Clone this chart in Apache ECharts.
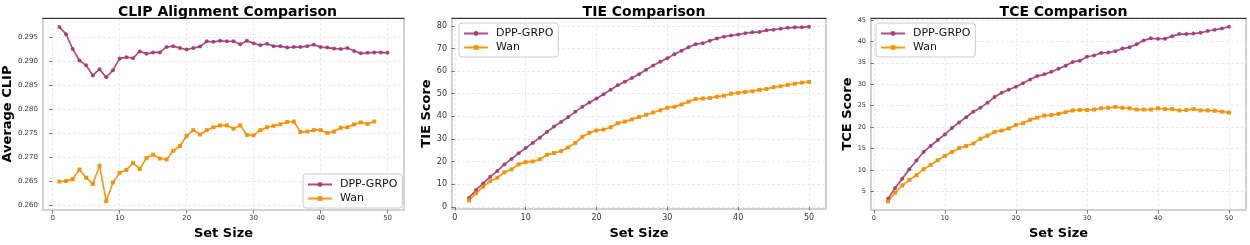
<!DOCTYPE html>
<html>
<head>
<meta charset="utf-8">
<script src="https://cdn.jsdelivr.net/npm/echarts@6/dist/echarts.min.js"></script>
<style>html,body{margin:0;padding:0;background:#fff;}#c{width:1250px;height:245px;}</style>
</head>
<body>
<div id="c"></div>
<script>
// ---------- data ----------
const setSizeClip = [1,2,3,4,5,6,7,8,9,10,11,12,13,14,15,16,17,18,19,20,21,22,23,24,25,26,27,28,29,30,31,32,33,34,35,36,37,38,39,40,41,42,43,44,45,46,47,48,49,50];
const setSizeScore = [2,3,4,5,6,7,8,9,10,11,12,13,14,15,16,17,18,19,20,21,22,23,24,25,26,27,28,29,30,31,32,33,34,35,36,37,38,39,40,41,42,43,44,45,46,47,48,49,50];

const clipDpp = [0.2972,0.2957,0.2926,0.2902,0.2892,0.2871,0.2884,0.2867,0.2882,0.2906,
  0.2909,0.2907,0.2921,0.2916,0.2919,0.2919,0.2930,0.2932,0.2928,0.2925,
  0.2928,0.2931,0.2942,0.2941,0.2943,0.2942,0.2942,0.2936,0.2943,0.2938,
  0.2934,0.2937,0.2932,0.2932,0.2929,0.2930,0.2930,0.2932,0.2935,0.2930,
  0.2929,0.2927,0.2926,0.2928,0.2922,0.2917,0.2918,0.2919,0.2919,0.2918];
const clipWan = [0.2650,0.2651,0.2655,0.2675,0.2658,0.2645,0.2683,0.2609,0.2648,0.2668,
  0.2674,0.2689,0.2676,0.2699,0.2706,0.2698,0.2696,0.2714,0.2724,0.2745,
  0.2757,0.2748,0.2757,0.2763,0.2767,0.2767,0.2760,0.2767,0.2747,0.2746,
  0.2757,0.2763,0.2766,0.2769,0.2774,0.2775,0.2753,0.2754,0.2757,0.2757,
  0.2751,0.2754,0.2762,0.2763,0.2769,0.2773,0.2770,0.2775];

const tieDpp = [4.0,7.5,10.4,13.3,15.9,18.8,21.2,23.7,26.0,
  28.3,30.6,33.1,35.5,37.5,39.7,42.0,44.2,46.1,47.9,
  49.8,51.8,53.7,55.3,56.9,58.6,60.6,62.5,64.1,65.7,
  67.4,69.0,70.5,71.9,72.3,73.4,74.4,75.2,75.7,76.1,
  76.7,77.1,77.3,78.0,78.3,78.7,79.1,79.3,79.3,79.6];
const tieWan = [2.9,6.1,9.0,11.4,12.9,15.3,16.6,18.8,19.8,
  20.1,21.1,23.0,23.8,24.7,26.3,28.3,31.0,32.8,33.8,
  34.2,35.2,37.0,37.7,38.7,39.7,40.7,41.7,42.7,43.8,
  44.2,45.3,46.5,47.7,47.9,48.1,48.7,49.1,50.0,50.4,
  50.8,51.1,51.7,52.1,52.9,53.3,53.9,54.4,54.9,55.2];

const tceDpp = [3.3,5.8,8.0,10.2,12.2,14.2,15.6,17.0,18.3,
  19.8,21.1,22.3,23.6,24.5,25.7,27.0,28.0,28.7,29.4,
  30.2,31.1,31.9,32.3,32.9,33.6,34.3,35.2,35.5,36.4,
  36.7,37.3,37.4,37.7,38.3,38.6,39.3,40.2,40.7,40.6,
  40.6,41.2,41.7,41.7,41.8,42.0,42.4,42.7,43.0,43.4];
const tceWan = [2.7,4.7,6.4,7.7,8.8,10.2,11.2,12.3,13.3,
  14.2,15.1,15.6,16.2,17.3,18.0,18.9,19.2,19.7,20.5,
  20.9,21.7,22.2,22.7,22.8,23.1,23.5,23.9,24.0,24.0,
  24.1,24.4,24.5,24.7,24.5,24.4,24.1,24.1,24.1,24.4,
  24.2,24.2,23.9,24.0,24.2,23.9,23.9,23.8,23.6,23.4];

const xTicks = [0,10,20,30,40,50];
const clipTicks = [0.260,0.265,0.270,0.275,0.280,0.285,0.290,0.295];
const tieTicks = [0,10,20,30,40,50,60,70,80];
const tceTicks = [5,10,15,20,25,30,35,40,45];

const titles = ['CLIP Alignment Comparison','TIE Comparison','TCE Comparison'];
const yNames = ['Average CLIP','TIE Score','TCE Score'];
const xName = 'Set Size';
const seriesNames = ['DPP-GRPO','Wan'];

// ---------- layout / style ----------
const FONT = 'DejaVu Sans';
const C_DPP = '#A23B72', C_WAN = '#F18F01';
const grids = [
  {left:41, top:18, width:363, height:197},
  {left:452, top:18, width:374, height:195},
  {left:871, top:18, width:375, height:197}
];
const xLim = [[-1.45,52.45],[-0.4,52.4],[-0.4,52.4]];
const yLim = [[0.25905,0.29906],[-0.935,83.435],[0.665,45.435]];
const yTickSets = [clipTicks, tieTicks, tceTicks];
const tickFont = [7, 8, 6.5];
const yNameGap = [27, 14, 17];
const yFmt = [v => v.toFixed(3), v => String(v), v => String(v)];

const chart = echarts.init(document.getElementById('c'), null, {renderer:'canvas'});

const option = {
  animation:false,
  backgroundColor:'#fff',
  title:[], grid:[], xAxis:[], yAxis:[], series:[], legend:[]
};

grids.forEach((g,i)=>{
  option.grid.push({left:g.left, top:g.top, width:g.width, height:g.height, show:true,
    borderColor:'#c4c4c4', borderWidth:1.5, containLabel:false});
  option.title.push({text:titles[i], left:g.left+g.width/2, top:0, textAlign:'center',
    textStyle:{fontFamily:FONT, fontWeight:'bold', fontSize:14, color:'#000'}});
  const gridLine = {show:true, lineStyle:{color:'#e6e6e6', type:[3,2], width:0.8}};
  option.xAxis.push({
    type:'value', gridIndex:i, min:xLim[i][0], max:xLim[i][1],
    name:xName, nameLocation:'middle', nameGap:13,
    nameTextStyle:{fontFamily:FONT, fontWeight:'bold', fontSize:13, color:'#000'},
    axisLine:{show:false},
    axisTick:{show:true, length:3.5, lineStyle:{color:'#555', width:0.8}, customValues:xTicks},
    axisLabel:{show:true, customValues:xTicks, fontFamily:FONT, fontSize:tickFont[i], color:'#333', margin:5},
    splitLine:gridLine
  });
  option.xAxis.push({
    type:'value', gridIndex:i, min:xLim[i][0], max:xLim[i][1], position:'top',
    axisLine:{show:true, onZero:false, lineStyle:{color:'#333', width:1}},
    axisTick:{show:false}, axisLabel:{show:false}, splitLine:{show:false}
  });
  option.yAxis.push({
    type:'value', gridIndex:i, min:yLim[i][0], max:yLim[i][1],
    name:yNames[i], nameLocation:'middle', nameGap:yNameGap[i],
    nameTextStyle:{fontFamily:FONT, fontWeight:'bold', fontSize:13, color:'#000'},
    axisLine:{show:false},
    axisTick:{show:true, length:3.5, lineStyle:{color:'#555', width:0.8}, customValues:yTickSets[i]},
    axisLabel:{show:true, customValues:yTickSets[i], formatter:yFmt[i], fontFamily:FONT, fontSize:tickFont[i], color:'#333', margin:5},
    splitLine:gridLine
  });
});

const panelData = [
  [setSizeClip, clipDpp, clipWan],
  [setSizeScore, tieDpp, tieWan],
  [setSizeScore, tceDpp, tceWan]
];
panelData.forEach((p,i)=>{
  const xs = p[0];
  const mk = (ys) => ys.map((y,k)=>[xs[k], y]);
  option.series.push({
    name:seriesNames[0], type:'line', xAxisIndex:i*2, yAxisIndex:i, data:mk(p[1]),
    symbol:'circle', symbolSize:4, showSymbol:true,
    lineStyle:{color:C_DPP, width:1.7, opacity:0.9}, itemStyle:{color:C_DPP, opacity:0.9}
  });
  option.series.push({
    name:seriesNames[1], type:'line', xAxisIndex:i*2, yAxisIndex:i, data:mk(p[2]),
    symbol:'rect', symbolSize:4, showSymbol:true,
    lineStyle:{color:C_WAN, width:1.7, opacity:0.9}, itemStyle:{color:C_WAN, opacity:0.9}
  });
});

const legendPos = [{left:303, top:174},{left:459, top:23},{left:876, top:23}];
legendPos.forEach(lp=>{
  option.legend.push({
    data:seriesNames, orient:'vertical', left:lp.left, top:lp.top,
    itemWidth:24, itemHeight:6, itemGap:3, padding:[5,5,4,4],
    borderColor:'#cccccc', borderWidth:1, borderRadius:3, backgroundColor:'rgba(255,255,255,0.85)',
    textStyle:{fontFamily:FONT, fontSize:11, color:'#111', padding:[0,0,0,3]},
    selectedMode:false
  });
});

chart.setOption(option);
</script>
</body>
</html>
